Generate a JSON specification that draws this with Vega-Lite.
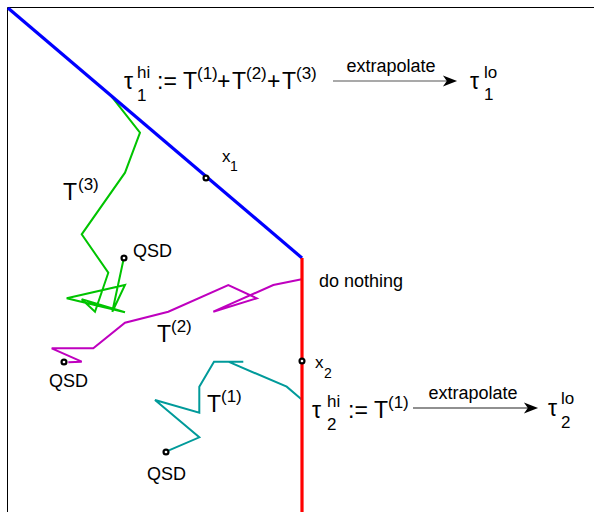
{
  "$schema": "https://vega.github.io/schema/vega-lite/v6.json",
  "width": 594,
  "height": 512,
  "padding": 0,
  "autosize": {"type": "none"},
  "background": "white",
  "config": {"view": {"stroke": null}, "text": {"font": "Liberation Sans", "color": "black"}},
  "datasets": {
    "frame": [
      {"x": 7.5, "y": 7.5, "x2": 594, "y2": 7.5},
      {"x": 7.5, "y": 7.5, "x2": 7.5, "y2": 512}
    ],
    "boundary": [
      {"seg": "boundary 1", "i": 0, "x": 8, "y": 8},
      {"seg": "boundary 1", "i": 1, "x": 302, "y": 258},
      {"seg": "boundary 2", "i": 0, "x": 302, "y": 258},
      {"seg": "boundary 2", "i": 1, "x": 302, "y": 512}
    ],
    "walks": [
      {"seg": "T(3)", "i": 0, "x": 124, "y": 257.3},
      {"seg": "T(3)", "i": 1, "x": 112.3, "y": 311.7},
      {"seg": "T(3)", "i": 2, "x": 125, "y": 285},
      {"seg": "T(3)", "i": 3, "x": 66.7, "y": 298.3},
      {"seg": "T(3)", "i": 4, "x": 125, "y": 312.3},
      {"seg": "T(3)", "i": 5, "x": 81.7, "y": 299.3},
      {"seg": "T(3)", "i": 6, "x": 95, "y": 311.7},
      {"seg": "T(3)", "i": 7, "x": 108.3, "y": 272.7},
      {"seg": "T(3)", "i": 8, "x": 81.7, "y": 234.3},
      {"seg": "T(3)", "i": 9, "x": 125, "y": 172.7},
      {"seg": "T(3)", "i": 10, "x": 140, "y": 132.7},
      {"seg": "T(3)", "i": 11, "x": 110.7, "y": 95.3},
      {"seg": "T(2)", "i": 0, "x": 68.3, "y": 362.3},
      {"seg": "T(2)", "i": 1, "x": 81.7, "y": 361.7},
      {"seg": "T(2)", "i": 2, "x": 51.7, "y": 348.3},
      {"seg": "T(2)", "i": 3, "x": 93.3, "y": 348.3},
      {"seg": "T(2)", "i": 4, "x": 125, "y": 322.7},
      {"seg": "T(2)", "i": 5, "x": 168.3, "y": 311.7},
      {"seg": "T(2)", "i": 6, "x": 228.3, "y": 285},
      {"seg": "T(2)", "i": 7, "x": 256.7, "y": 298.3},
      {"seg": "T(2)", "i": 8, "x": 213.3, "y": 311.7},
      {"seg": "T(2)", "i": 9, "x": 273.3, "y": 285},
      {"seg": "T(2)", "i": 10, "x": 301.7, "y": 279.3},
      {"seg": "T(1)", "i": 0, "x": 166, "y": 451.7},
      {"seg": "T(1)", "i": 1, "x": 199.3, "y": 437.3},
      {"seg": "T(1)", "i": 2, "x": 155, "y": 400},
      {"seg": "T(1)", "i": 3, "x": 199.3, "y": 412.7},
      {"seg": "T(1)", "i": 4, "x": 199.3, "y": 386.7},
      {"seg": "T(1)", "i": 5, "x": 214, "y": 361.7},
      {"seg": "T(1)", "i": 6, "x": 243.3, "y": 361.7},
      {"seg": "T(1)", "i": 7, "x": 228.3, "y": 361.7},
      {"seg": "T(1)", "i": 8, "x": 286.7, "y": 386.7},
      {"seg": "T(1)", "i": 9, "x": 302.3, "y": 400}
    ],
    "points": [
      {"name": "QSD 3", "x": 124, "y": 258},
      {"name": "QSD 2", "x": 64, "y": 362},
      {"name": "QSD 1", "x": 166, "y": 452},
      {"name": "x1", "x": 206, "y": 178},
      {"name": "x2", "x": 302, "y": 361}
    ],
    "arrows": [
      {"x": 333, "x2": 447, "y": 81, "tip": 450, "tone": "a"},
      {"x": 413, "x2": 528, "y": 408, "tip": 531, "tone": "b"}
    ],
    "texts": [
      {"kind": "main", "x": 124, "y": 89, "text": "τ"},
      {"kind": "sup", "x": 137, "y": 78, "text": "hi"},
      {"kind": "sub", "x": 137, "y": 101, "text": "1"},
      {"kind": "main", "x": 157, "y": 89, "text": ":="},
      {"kind": "main", "x": 183, "y": 89, "text": "T"},
      {"kind": "sup", "x": 197, "y": 79, "text": "(1)"},
      {"kind": "main", "x": 217, "y": 89, "text": "+"},
      {"kind": "main", "x": 232, "y": 89, "text": "T"},
      {"kind": "sup", "x": 246, "y": 79, "text": "(2)"},
      {"kind": "main", "x": 267, "y": 89, "text": "+"},
      {"kind": "main", "x": 282, "y": 89, "text": "T"},
      {"kind": "sup", "x": 296, "y": 79, "text": "(3)"},
      {"kind": "centre", "x": 391, "y": 72, "text": "extrapolate"},
      {"kind": "main", "x": 470, "y": 89, "text": "τ"},
      {"kind": "sup", "x": 484, "y": 78, "text": "lo"},
      {"kind": "sub", "x": 484, "y": 100, "text": "1"},
      {"kind": "main", "x": 312, "y": 418, "text": "τ"},
      {"kind": "sup", "x": 327, "y": 407, "text": "hi"},
      {"kind": "sub", "x": 327, "y": 430, "text": "2"},
      {"kind": "main", "x": 348, "y": 418, "text": ":="},
      {"kind": "main", "x": 374, "y": 418, "text": "T"},
      {"kind": "sup", "x": 388, "y": 408, "text": "(1)"},
      {"kind": "centre", "x": 473, "y": 399, "text": "extrapolate"},
      {"kind": "main", "x": 548, "y": 416, "text": "τ"},
      {"kind": "sup", "x": 561, "y": 404, "text": "lo"},
      {"kind": "sub", "x": 561, "y": 428, "text": "2"},
      {"kind": "main", "x": 63, "y": 200, "text": "T"},
      {"kind": "sup", "x": 78, "y": 190, "text": "(3)"},
      {"kind": "main", "x": 157, "y": 342, "text": "T"},
      {"kind": "sup", "x": 171, "y": 332, "text": "(2)"},
      {"kind": "main", "x": 207, "y": 412, "text": "T"},
      {"kind": "sup", "x": 221, "y": 402, "text": "(1)"},
      {"kind": "label", "x": 133, "y": 257, "text": "QSD"},
      {"kind": "label", "x": 49, "y": 387, "text": "QSD"},
      {"kind": "label", "x": 147, "y": 480, "text": "QSD"},
      {"kind": "label", "x": 319, "y": 287, "text": "do nothing"},
      {"kind": "var", "x": 222, "y": 162, "text": "x"},
      {"kind": "varsub", "x": 230, "y": 171, "text": "1"},
      {"kind": "var", "x": 315, "y": 368, "text": "x"},
      {"kind": "varsub", "x": 324, "y": 378, "text": "2"}
    ]
  },
  "layer": [
    {
      "data": {"name": "frame"},
      "mark": {"type": "rule", "color": "black", "strokeWidth": 1},
      "encoding": {
        "x": {"field": "x", "type": "quantitative", "scale": {"domain": [0, 594], "nice": false, "zero": false}, "axis": null},
        "x2": {"field": "x2"},
        "y": {"field": "y", "type": "quantitative", "scale": {"domain": [0, 512], "reverse": true, "nice": false, "zero": false}, "axis": null},
        "y2": {"field": "y2"}
      }
    },
    {
      "data": {"name": "walks"},
      "mark": {"type": "line", "strokeWidth": 2, "strokeJoin": "miter"},
      "encoding": {
        "x": {"field": "x", "type": "quantitative", "axis": null},
        "y": {"field": "y", "type": "quantitative", "axis": null},
        "order": {"field": "i", "type": "quantitative"},
        "detail": {"field": "seg"},
        "color": {"field": "seg", "type": "nominal", "legend": null,
          "scale": {"domain": ["boundary 1", "boundary 2", "T(1)", "T(2)", "T(3)"], "range": ["#0000ff", "#ff0000", "#009a9a", "#bf00bf", "#00c400"]}}
      }
    },
    {
      "data": {"name": "boundary"},
      "mark": {"type": "line", "strokeWidth": 3.2},
      "encoding": {
        "x": {"field": "x", "type": "quantitative", "axis": null},
        "y": {"field": "y", "type": "quantitative", "axis": null},
        "order": {"field": "i", "type": "quantitative"},
        "detail": {"field": "seg"},
        "color": {"field": "seg", "type": "nominal", "legend": null}
      }
    },
    {
      "data": {"name": "points"},
      "mark": {"type": "point", "shape": "circle", "size": 24, "filled": false, "fill": "white", "fillOpacity": 1, "stroke": "black", "strokeWidth": 2.2, "opacity": 1},
      "encoding": {
        "x": {"field": "x", "type": "quantitative", "axis": null},
        "y": {"field": "y", "type": "quantitative", "axis": null}
      }
    },
    {
      "data": {"name": "arrows"},
      "mark": {"type": "rule", "strokeWidth": 1.2},
      "encoding": {
        "x": {"field": "x", "type": "quantitative", "axis": null},
        "x2": {"field": "x2"},
        "y": {"field": "y", "type": "quantitative", "axis": null},
        "stroke": {"field": "tone", "type": "nominal", "legend": null, "scale": {"domain": ["a", "b"], "range": ["#555555", "#222222"]}}
      }
    },
    {
      "data": {"name": "arrows"},
      "mark": {"type": "point", "shape": "M 1 0 L -1 -0.78 L -0.45 0 L -1 0.78 Z", "size": 200, "filled": true, "fill": "black", "stroke": null, "opacity": 1},
      "encoding": {
        "x": {"field": "tip", "type": "quantitative", "axis": null},
        "y": {"field": "y", "type": "quantitative", "axis": null}
      }
    },
    {
      "data": {"name": "texts"},
      "transform": [{"filter": "datum.kind === 'main'"}],
      "mark": {"type": "text", "fontSize": 23, "align": "left", "baseline": "alphabetic"},
      "encoding": {
        "x": {"field": "x", "type": "quantitative", "axis": null},
        "y": {"field": "y", "type": "quantitative", "axis": null},
        "text": {"field": "text"}
      }
    },
    {
      "data": {"name": "texts"},
      "transform": [{"filter": "datum.kind === 'sup' || datum.kind === 'sub'"}],
      "mark": {"type": "text", "fontSize": 17, "align": "left", "baseline": "alphabetic"},
      "encoding": {
        "x": {"field": "x", "type": "quantitative", "axis": null},
        "y": {"field": "y", "type": "quantitative", "axis": null},
        "text": {"field": "text"}
      }
    },
    {
      "data": {"name": "texts"},
      "transform": [{"filter": "datum.kind === 'label'"}],
      "mark": {"type": "text", "fontSize": 18, "align": "left", "baseline": "alphabetic"},
      "encoding": {
        "x": {"field": "x", "type": "quantitative", "axis": null},
        "y": {"field": "y", "type": "quantitative", "axis": null},
        "text": {"field": "text"}
      }
    },
    {
      "data": {"name": "texts"},
      "transform": [{"filter": "datum.kind === 'centre'"}],
      "mark": {"type": "text", "fontSize": 18, "align": "center", "baseline": "alphabetic"},
      "encoding": {
        "x": {"field": "x", "type": "quantitative", "axis": null},
        "y": {"field": "y", "type": "quantitative", "axis": null},
        "text": {"field": "text"}
      }
    },
    {
      "data": {"name": "texts"},
      "transform": [{"filter": "datum.kind === 'var'"}],
      "mark": {"type": "text", "fontSize": 17, "align": "left", "baseline": "alphabetic"},
      "encoding": {
        "x": {"field": "x", "type": "quantitative", "axis": null},
        "y": {"field": "y", "type": "quantitative", "axis": null},
        "text": {"field": "text"}
      }
    },
    {
      "data": {"name": "texts"},
      "transform": [{"filter": "datum.kind === 'varsub'"}],
      "mark": {"type": "text", "fontSize": 14, "align": "left", "baseline": "alphabetic"},
      "encoding": {
        "x": {"field": "x", "type": "quantitative", "axis": null},
        "y": {"field": "y", "type": "quantitative", "axis": null},
        "text": {"field": "text"}
      }
    }
  ]
}
